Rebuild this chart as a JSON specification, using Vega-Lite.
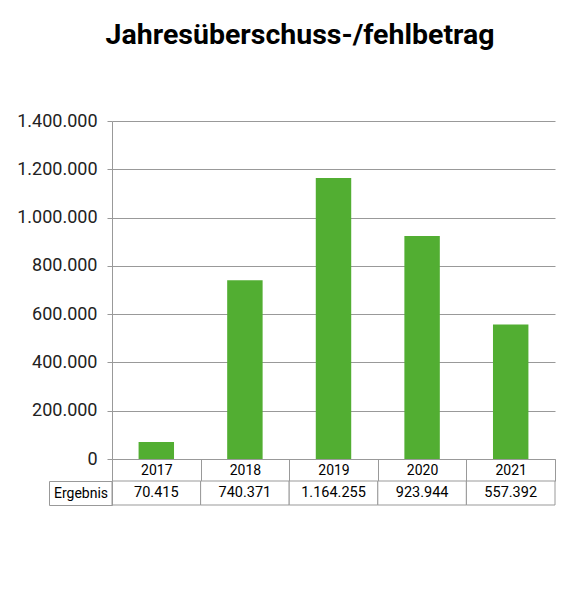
{
  "$schema": "https://vega.github.io/schema/vega-lite/v6.json",
  "config": {
    "locale": {"number": {"decimal": ",", "thousands": ".", "grouping": [3], "currency": ["", " €"]}},
    "font": "Roboto",
    "view": {"stroke": null}
  },
  "padding": {"left": 16, "top": 20, "right": 10, "bottom": 10},
  "title": {
    "text": "Jahresüberschuss-/fehlbetrag",
    "fontSize": 28.5,
    "fontWeight": "bold",
    "font": "Roboto",
    "color": "#000",
    "anchor": "middle",
    "dx": 14,
    "offset": 63
  },
  "data": {
    "values": [
      {"jahr": "2017", "wert": 70415},
      {"jahr": "2018", "wert": 740371},
      {"jahr": "2019", "wert": 1164255},
      {"jahr": "2020", "wert": 923944},
      {"jahr": "2021", "wert": 557392}
    ]
  },
  "bounds": "flush",
  "spacing": 22,
  "vconcat": [
    {
      "width": 443,
      "height": 338,
      "mark": {"type": "bar", "width": {"band": 0.4}, "color": "#52ae32"},
      "encoding": {
        "x": {
          "field": "jahr",
          "type": "ordinal",
          "scale": {"paddingInner": 0, "paddingOuter": 0},
          "axis": {
            "title": null,
            "labelAngle": 0,
            "domainColor": "#999",
            "tickColor": "#999",
            "tickBand": "extent",
            "tickSize": 22,
            "labelPadding": -11,
            "labelBaseline": "middle",
            "labelFontSize": 14,
            "labelColor": "#000"
          }
        },
        "y": {
          "field": "wert",
          "type": "quantitative",
          "scale": {"domain": [0, 1400000]},
          "axis": {
            "title": null,
            "format": ",d",
            "values": [0, 200000, 400000, 600000, 800000, 1000000, 1200000, 1400000],
            "gridColor": "#999",
            "domainColor": "#999",
            "tickColor": "#999",
            "tickSize": 5,
            "labelPadding": 10,
            "labelFontSize": 18,
            "labelColor": "#222"
          }
        }
      }
    },
    {
      "width": 443,
      "height": 24,
      "layer": [
        {
          "mark": {"type": "rect", "fill": "white", "stroke": "#999"},
          "encoding": {
            "x": {"field": "jahr", "type": "ordinal", "scale": {"paddingInner": 0, "paddingOuter": 0}, "axis": null},
            "y": {
              "datum": "Ergebnis",
              "type": "nominal",
              "scale": {"paddingInner": 0, "paddingOuter": 0},
              "axis": {
                "title": null,
                "orient": "left",
                "domainColor": "#999",
                "tickColor": "#999",
                "tickBand": "extent",
                "tickSize": 63,
                "labelPadding": -31.5,
                "labelAlign": "center",
                "labelBaseline": "middle",
                "labelFontSize": 14,
                "labelColor": "#000"
              }
            }
          }
        },
        {
          "mark": {"type": "text", "fontSize": 14.5, "color": "#000"},
          "encoding": {
            "x": {"field": "jahr", "type": "ordinal", "axis": null},
            "y": {
              "datum": "Ergebnis",
              "type": "nominal",
              "axis": {"title": null, "orient": "left", "offset": 63, "labels": false, "ticks": false, "domain": true, "domainColor": "#999"}
            },
            "text": {"field": "wert", "type": "quantitative", "format": ",d"}
          }
        }
      ],
      "resolve": {"axis": {"y": "independent"}}
    }
  ]
}
